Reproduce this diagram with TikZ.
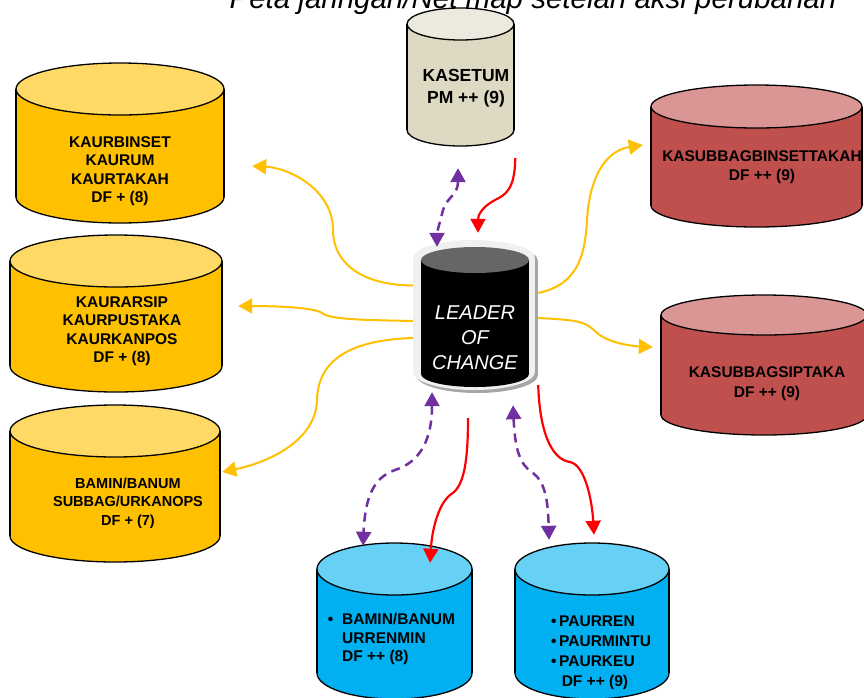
\documentclass[tikz,border=0pt]{standalone}
\usepackage{fontspec}
\setmainfont{Liberation Sans}
\usetikzlibrary{arrows.meta, calc}
\definecolor{yelbody}{RGB}{255,192,0}
\definecolor{yeltop}{RGB}{255,217,102}
\definecolor{redbody}{RGB}{192,80,77}
\definecolor{redtop}{RGB}{217,150,148}
\definecolor{bluebody}{RGB}{0,176,240}
\definecolor{bluetop}{RGB}{102,208,245}
\definecolor{beigebody}{RGB}{221,217,195}
\definecolor{beigetop}{RGB}{236,233,222}
\definecolor{linkpur}{RGB}{112,48,160}
\definecolor{rimgray}{RGB}{240,240,240}

% name, cx, top y, rx, ry, height, body colour, top colour
\newcommand{\drum}[8]{%
  \filldraw[fill=#7, draw=black, line width=1.3pt] (#2,#3+#6-#5) ellipse[x radius=#4, y radius=#5];
  \fill[#7] (#2-#4,#3+#5) rectangle (#2+#4,#3+#6-#5);
  \draw[line width=1.3pt] (#2-#4,#3+#5) -- (#2-#4,#3+#6-#5) (#2+#4,#3+#5) -- (#2+#4,#3+#6-#5);
  \filldraw[fill=#8, draw=black, line width=1.3pt] (#2,#3+#5) ellipse[x radius=#4, y radius=#5];
  \node[inner sep=0, minimum width=2*#4pt, minimum height=#6pt] (#1) at (#2,#3+#6/2) {};
}

\begin{document}
\begin{tikzpicture}[
    x=1pt, y=-1pt,
    lbl/.style={font=\fontsize{15.5}{18.5}\selectfont\bfseries, align=center, inner sep=0},
    ttl/.style={font=\fontsize{29.5}{32}\selectfont\itshape, anchor=base, inner sep=0},
    tip/.style={-{Triangle[length=14pt, width=15pt]}},
    ylink/.style={tip, yelbody, line width=2pt},
    rlink/.style={tip, red, line width=2.2pt},
    plink/.style={{Triangle[length=14pt, width=15pt]}-{Triangle[length=14pt, width=15pt]},
                  linkpur, line width=2.5pt, dash pattern=on 9pt off 6pt}
  ]
    \useasboundingbox (0,0) rectangle (864,697);

    %% Title (cut at the top)
    \node[ttl] (title) at (533,8) {Peta jaringan/Net map setelah aksi perubahan};

    %% Drums
    \drum{kasetum}{460.5}{8}{53.5}{16}{138}{beigebody}{beigetop}
    \drum{kaurbin}{120}{63}{104}{26}{160}{yelbody}{yeltop}
    \drum{kaurars}{116}{235}{106}{26}{157}{yelbody}{yeltop}
    \drum{bamin}{115}{405}{105}{26}{157}{yelbody}{yeltop}
    \drum{subbin}{756.5}{85}{105.5}{21.5}{142}{redbody}{redtop}
    \drum{subsip}{764}{295}{103}{20}{140}{redbody}{redtop}
    \drum{renmin}{394.5}{543}{77.5}{26}{156}{bluebody}{bluetop}
    \drum{paurren}{592}{543}{77}{26}{156}{bluebody}{bluetop}

    %% Leader of change
    \fill[black!35] (416,261) rectangle (538,375);
    \fill[black!35] (477,375) ellipse[x radius=61, y radius=18];
    \fill[black!35] (477,261) ellipse[x radius=61, y radius=18];
    \fill[rimgray] (413,258) rectangle (535,372);
    \fill[rimgray] (474,372) ellipse[x radius=61, y radius=18];
    \fill[rimgray] (474,258) ellipse[x radius=61, y radius=18];
    \fill[black] (421,260) rectangle (529,374);
    \fill[black] (475,374) ellipse[x radius=54, y radius=13];
    \fill[black!60] (475,260) ellipse[x radius=54, y radius=13];
    \node[inner sep=0, minimum width=125pt, minimum height=153pt] (leader) at (475.5,316.5) {};

    %% Texts
    \node[lbl, font=\fontsize{17.5}{22}\selectfont\bfseries] (kasetum-t) at (466,88) {KASETUM\\PM ++ (9)};
    \node[lbl] (kaurbin-t) at (120,171) {KAURBINSET\\KAURUM\\KAURTAKAH\\DF + (8)};
    \node[lbl] (kaurars-t) at (122,331) {KAURARSIP\\KAURPUSTAKA\\KAURKANPOS\\DF + (8)};
    \node[lbl, font=\fontsize{14.5}{18.5}\selectfont\bfseries] (bamin-t) at (128,503)
      {BAMIN/BANUM\\SUBBAG/URKANOPS\\DF + (7)};
    \node[lbl] (subbin-t) at (762,167) {KASUBBAGBINSETTAKAH\\DF ++ (9)};
    \node[lbl, font=\fontsize{15.5}{20}\selectfont\bfseries] (subsip-t) at (767,384) {KASUBBAGSIPTAKA\\DF ++ (9)};
    \node[lbl, align=left, anchor=west] (renmin-t) at (342,639)
      {\llap{\textbullet\hspace{9pt}}BAMIN/BANUM\\URRENMIN\\DF ++ (8)};
    \node[lbl, align=left, anchor=west, font=\fontsize{15.5}{20}\selectfont\bfseries] (paurren-t) at (559,653)
      {\llap{\textbullet\,}PAURREN\\\llap{\textbullet\,}PAURMINTU\\\llap{\textbullet\,}PAURKEU\\\,DF ++ (9)};
    \node[align=center, inner sep=0, text=white, font=\fontsize{20}{25}\selectfont\itshape] (leader-t)
      at (475,338) {LEADER\\OF\\CHANGE};

    %% Yellow links to the left
    \draw[ylink] ($(leader.west)+(0,-31)$) .. controls (360,285) and (333,262) .. (333,230)
                 .. controls (333,190) and (290,168) .. ($(kaurbin.east)+(28,23)$);
    \draw[ylink] ($(leader.west)+(0,4.5)$) .. controls (370,320) and (330,320) .. (322,313)
                 .. controls (314,307) and (270,306) .. ($(kaurars.east)+(16,-7.5)$);
    \draw[ylink] ($(leader.west)+(0,21.5)$) .. controls (350,340) and (318,360) .. (317,400)
                 .. controls (316,440) and (270,462) .. ($(bamin.east)+(2,-11.5)$);

    %% Yellow links to the right
    \draw[ylink] ($(leader.east)+(0,-23.5)$) .. controls (575,285) and (585,260) .. (587,220)
                 .. controls (590,170) and (610,150) .. ($(subbin.west)+(-8,-11)$);
    \draw[ylink] ($(leader.east)+(0,1.5)$) .. controls (580,320) and (585,322) .. (595,331)
                 .. controls (605,342) and (630,346) .. ($(subsip.west)+(-8,-18)$);

    %% Red links
    \draw[rlink] ($(kasetum.south east)+(1,12)$) .. controls (515,190) and (505,195) .. (495,200)
                 .. controls (482,207) and (478,215) .. ($(leader.north)+(2.5,-7)$);
    \draw[rlink] ($(leader.south)+(-7.5,25)$) .. controls (468,470) and (462,488) .. (450,495)
                 .. controls (438,505) and (432,530) .. ($(renmin.north)+(35.5,20)$);
    \draw[rlink] ($(leader.south east)+(0,-8)$) .. controls (540,440) and (555,460) .. (570,462)
                 .. controls (585,465) and (592,500) .. ($(paurren.north)+(2,-8)$);

    %% Purple two-way links
    \draw[plink] ($(kasetum.south)+(-2.5,22)$) .. controls (458,195) and (447,197) .. (443,210)
                 .. controls (440,222) and (437,232) .. ($(leader.north)+(-38.5,7)$);
    \draw[plink] ($(leader.south)+(-43.5,-1)$) .. controls (432,440) and (420,462) .. (395,470)
                 .. controls (372,478) and (365,500) .. ($(renmin.north)+(-31.5,3)$);
    \draw[plink] ($(leader.south)+(37.5,12)$) .. controls (515,450) and (520,465) .. (533,473)
                 .. controls (545,482) and (548,500) .. ($(paurren.north)+(-43,-3)$);
  \end{tikzpicture}
\end{document}
